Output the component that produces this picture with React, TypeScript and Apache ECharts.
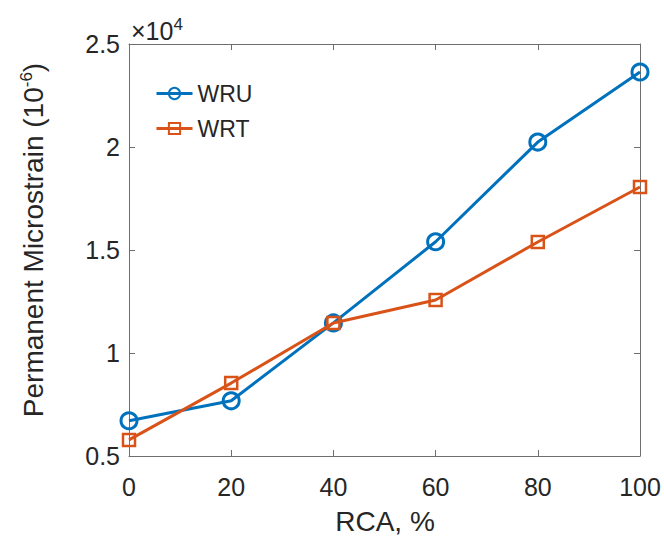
import React, { useEffect, useRef } from "react";
import * as echarts from "echarts";

const RCA = [0, 20, 40, 60, 80, 100];
const WRU = [6710, 7680, 11460, 15400, 20240, 23640];
const WRT = [5780, 8540, 11460, 12570, 15390, 18060];
const X_TICKS = [0, 20, 40, 60, 80, 100];
const Y_TICKS = [5000, 10000, 15000, 20000, 25000];

const BLUE = "#0072BD";
const ORANGE = "#D95319";
const TXT = "#262626";
const AX = "#6e6e6e";
const FONT = "'Liberation Sans', Arial, sans-serif";

export default function App() {
  const ref = useRef<HTMLDivElement>(null);
  useEffect(() => {
    if (!ref.current) return;
    const chart = echarts.init(ref.current, null, { renderer: "svg" });
    const axisCommon = {
      axisLine: { show: true, onZero: false, lineStyle: { color: AX, width: 1 } },
      axisTick: { show: true, inside: true, length: 6, lineStyle: { color: AX } },
      splitLine: { show: false },
    };
    chart.setOption({
      animation: false,
      backgroundColor: "#ffffff",
      textStyle: { fontFamily: FONT },
      grid: { left: 129, right: 24, top: 44, bottom: 85, containLabel: false },
      legend: {
        left: 150,
        top: 77,
        orient: "vertical",
        itemWidth: 36,
        itemHeight: 14,
        itemGap: 12,
        lineStyle: { width: 3 },
        textStyle: { fontSize: 23, color: TXT, fontFamily: FONT },
        data: ["WRU", "WRT"],
      },
      xAxis: [
        {
          type: "value",
          min: X_TICKS[0],
          max: X_TICKS[X_TICKS.length - 1],
          interval: 20,
          position: "bottom",
          ...axisCommon,
          axisLabel: { fontSize: 25, color: TXT, margin: 18, fontFamily: FONT },
        },
        {
          type: "value",
          min: X_TICKS[0],
          max: X_TICKS[X_TICKS.length - 1],
          interval: 20,
          position: "top",
          ...axisCommon,
          axisLabel: { show: false },
        },
      ],
      yAxis: [
        {
          type: "value",
          min: Y_TICKS[0],
          max: Y_TICKS[Y_TICKS.length - 1],
          interval: 5000,
          position: "left",
          ...axisCommon,
          axisLabel: {
            fontSize: 25,
            color: TXT,
            margin: 9,
            fontFamily: FONT,
            formatter: (v: number) => String(v / 10000),
          },
        },
        {
          type: "value",
          min: Y_TICKS[0],
          max: Y_TICKS[Y_TICKS.length - 1],
          interval: 5000,
          position: "right",
          ...axisCommon,
          axisLabel: { show: false },
        },
      ],
      series: [
        {
          name: "WRU",
          type: "line",
          data: RCA.map((x, i) => [x, WRU[i]]),
          symbol: "circle",
          symbolSize: 16,
          lineStyle: { color: BLUE, width: 3 },
          itemStyle: { color: "rgba(255,255,255,0)", borderColor: BLUE, borderWidth: 3 },
          z: 3,
        },
        {
          name: "WRT",
          type: "line",
          data: RCA.map((x, i) => [x, WRT[i]]),
          symbol: "rect",
          symbolSize: 12,
          lineStyle: { color: ORANGE, width: 3 },
          itemStyle: { color: "rgba(255,255,255,0)", borderColor: ORANGE, borderWidth: 2.5 },
          z: 4,
        },
      ],
      graphic: [
        {
          type: "text",
          x: 385,
          y: 521,
          style: {
            text: "RCA, %",
            font: `28px ${FONT}`,
            fill: TXT,
            align: "center",
            verticalAlign: "middle",
          },
        },
        {
          type: "text",
          x: 33,
          y: 240,
          rotation: Math.PI / 2,
          style: {
            text: "Permanent Microstrain (10{sup|-6})",
            font: `28px ${FONT}`,
            fill: TXT,
            align: "center",
            verticalAlign: "middle",
            rich: {
              sup: { fontSize: 17, fontFamily: FONT, fill: TXT, padding: [0, 0, 14, 0] },
            },
          },
        },
        {
          type: "text",
          x: 131,
          y: 31,
          style: {
            text: "×10{sup|4}",
            font: `25px ${FONT}`,
            fill: TXT,
            align: "left",
            verticalAlign: "middle",
            rich: {
              sup: { fontSize: 17, fontFamily: FONT, fill: TXT, padding: [0, 0, 14, 0] },
            },
          },
        },
      ],
    });
    return () => chart.dispose();
  }, []);
  return (
    <div
      ref={ref}
      style={{ position: "absolute", left: 0, top: 0, width: 664, height: 541 }}
    />
  );
}
